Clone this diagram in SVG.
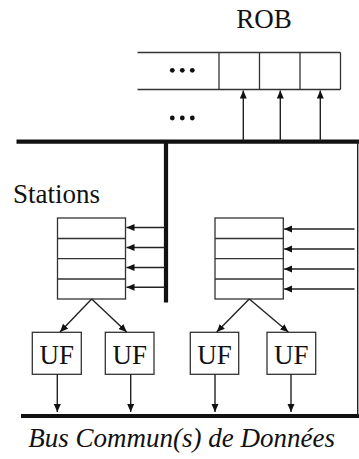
<svg xmlns="http://www.w3.org/2000/svg" width="359" height="459" viewBox="0 0 359 459">
<style>
.box{fill:#fff;stroke:#333;stroke-width:1.3}
.ln{stroke:#333;stroke-width:1.3;fill:none}
.thin{stroke:#222;stroke-width:1.4;fill:none}
.bus{stroke:#111;stroke-width:4.2;fill:none}
.t{font-family:'Liberation Serif','DejaVu Serif',serif;font-size:27px;fill:#111}
.dot{fill:#111}
</style>
<defs>
<marker id="ah" markerUnits="userSpaceOnUse" markerWidth="9" markerHeight="8" refX="8" refY="3.5" orient="auto">
<path d="M0,0 L8,3.5 L0,7 z" fill="#111"/>
</marker>
</defs>
<g id="rob">
<text class="t" font-family="Liberation Serif, DejaVu Serif, serif" x="264" y="28.3" text-anchor="middle">ROB</text>
<path class="ln" d="M137.5,52.5 H340.5 M137.5,89.5 H340.5"/>
<path class="ln" d="M219,52.5 V89.5 M259.5,52.5 V89.5 M300,52.5 V89.5 M340.5,52.5 V89.5"/>
<circle class="dot" cx="172.3" cy="70.3" r="2.4"/>
<circle class="dot" cx="182.3" cy="70.3" r="2.4"/>
<circle class="dot" cx="192.3" cy="70.3" r="2.4"/>
</g>
<g id="dots2">
<circle class="dot" cx="172.3" cy="118" r="2.4"/>
<circle class="dot" cx="182.3" cy="118" r="2.4"/>
<circle class="dot" cx="192.3" cy="118" r="2.4"/>
</g>
<g id="stations-label">
<text class="t" font-family="Liberation Serif, DejaVu Serif, serif" x="13" y="202.7">Stations</text>
</g>
<g id="station-left">
<rect class="box" x="57.5" y="218" width="68" height="81"/>
<path class="ln" d="M57.5,238.5 H125.5 M57.5,258.7 H125.5 M57.5,279 H125.5"/>
</g>
<g id="station-right">
<rect class="box" x="215" y="218" width="68.3" height="81"/>
<path class="ln" d="M215,238.5 H283.3 M215,258.7 H283.3 M215,279 H283.3"/>
</g>
<g id="uf1"><rect class="box" x="32.3" y="332.3" width="49" height="42"/><text class="t" font-family="Liberation Serif, DejaVu Serif, serif" x="56.8" y="364.3" text-anchor="middle">UF</text></g>
<g id="uf2"><rect class="box" x="105.3" y="332.3" width="48.7" height="42"/><text class="t" font-family="Liberation Serif, DejaVu Serif, serif" x="129.7" y="364.3" text-anchor="middle">UF</text></g>
<g id="uf3"><rect class="box" x="190.3" y="332.3" width="48.4" height="42"/><text class="t" font-family="Liberation Serif, DejaVu Serif, serif" x="214.5" y="364.3" text-anchor="middle">UF</text></g>
<g id="uf4"><rect class="box" x="267" y="332.3" width="48.7" height="42"/><text class="t" font-family="Liberation Serif, DejaVu Serif, serif" x="291.3" y="364.3" text-anchor="middle">UF</text></g>
<g id="bus-label">
<text class="t" font-family="Liberation Serif, DejaVu Serif, serif" x="28.3" y="446.7" font-style="italic">Bus Commun(s) de Données</text>
</g>
<g id="connectors">
<path class="bus" d="M16.5,141.6 H359"/>
<path class="bus" d="M166,141.6 V302.5"/>
<path class="bus" d="M21,416 H359"/>
<path class="thin" d="M357.7,141.6 V416"/>
<path class="thin" marker-end="url(#ah)" d="M243.3,141 V90.5"/>
<path class="thin" marker-end="url(#ah)" d="M280.3,141 V90.5"/>
<path class="thin" marker-end="url(#ah)" d="M320.3,141 V90.5"/>
<path class="thin" marker-end="url(#ah)" d="M165,227.5 H126.5"/>
<path class="thin" marker-end="url(#ah)" d="M165,247.5 H126.5"/>
<path class="thin" marker-end="url(#ah)" d="M165,267.5 H126.5"/>
<path class="thin" marker-end="url(#ah)" d="M165,287.3 H126.5"/>
<path class="thin" marker-end="url(#ah)" d="M354.5,229 H284.2"/>
<path class="thin" marker-end="url(#ah)" d="M354.5,249 H284.2"/>
<path class="thin" marker-end="url(#ah)" d="M354.5,269 H284.2"/>
<path class="thin" marker-end="url(#ah)" d="M354.5,289 H284.2"/>
<path class="thin" marker-end="url(#ah)" d="M91.7,299 L60,332"/>
<path class="thin" marker-end="url(#ah)" d="M91.7,299 L126.7,332"/>
<path class="thin" marker-end="url(#ah)" d="M249.3,299 L216.7,332"/>
<path class="thin" marker-end="url(#ah)" d="M249.3,299 L288.3,332"/>
<path class="thin" marker-end="url(#ah)" d="M57.3,374.3 V412"/>
<path class="thin" marker-end="url(#ah)" d="M130.7,374.3 V412"/>
<path class="thin" marker-end="url(#ah)" d="M215,374.3 V412"/>
<path class="thin" marker-end="url(#ah)" d="M291,374.3 V412"/>
</g>
</svg>
